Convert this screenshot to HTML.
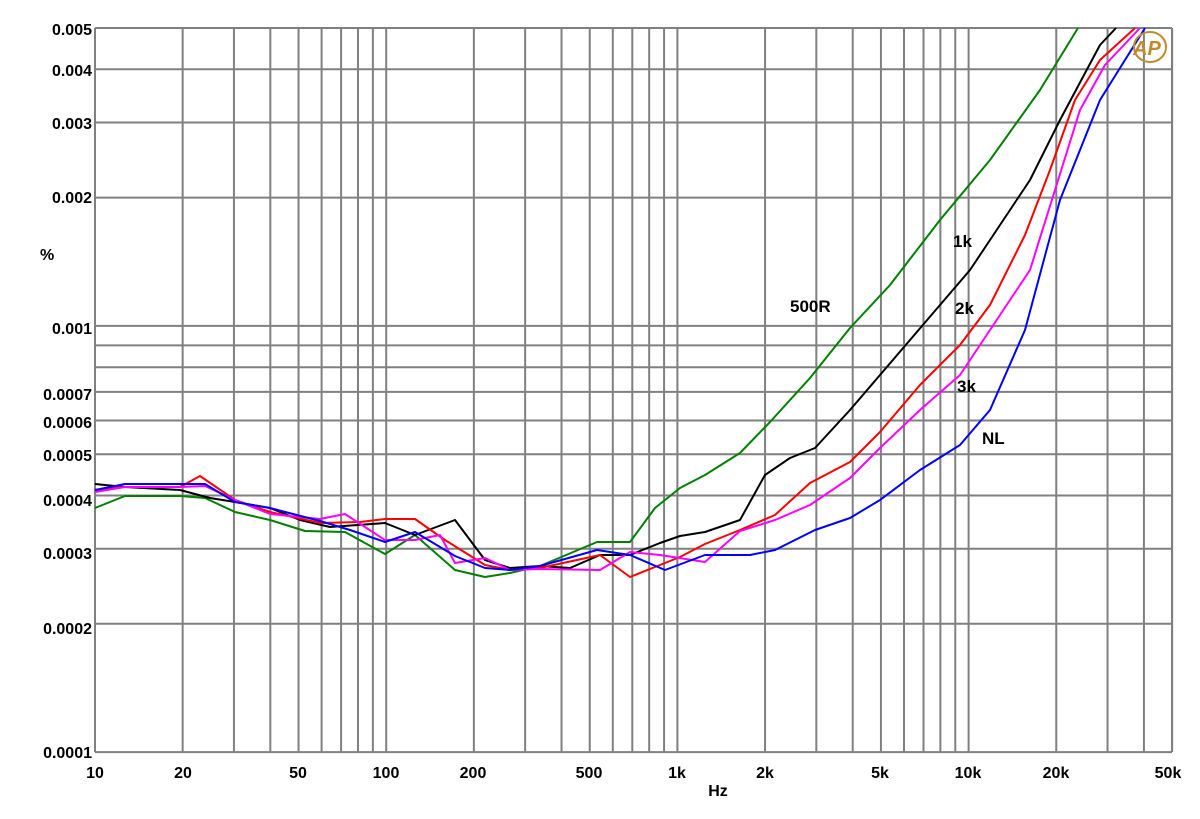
<!DOCTYPE html><html><head><style>body{margin:0;background:#fff}svg text{font-family:"Liberation Sans",Arial,sans-serif;font-size:16px;fill:#000;font-weight:bold}</style></head><body>
<svg width="1200" height="814" xmlns="http://www.w3.org/2000/svg">
<g stroke="#808080" stroke-width="2" id="g"></g>
<script>
var g=document.getElementById('g'),ns='http://www.w3.org/2000/svg';
function X(f){return 95+(Math.log10(f)-1)*291.2}
function Y(v){return 28+(Math.log10(0.005)-Math.log10(v))*426.2}
function ln(a,b,c,d){var l=document.createElementNS(ns,'line');l.setAttribute('x1',a);l.setAttribute('y1',b);l.setAttribute('x2',c);l.setAttribute('y2',d);g.appendChild(l)}
[10,100,1000,10000].forEach(function(d){for(var k=1;k<10;k++){var f=d*k;if(f<=50000)ln(X(f),28,X(f),752)}});ln(1172,28,1172,752);
[0.0001,0.0002,0.0003,0.0004,0.0005,0.0006,0.0007,0.0008,0.0009,0.001,0.002,0.003,0.004,0.005].forEach(function(v){ln(95,Y(v),1172,Y(v))});
</script>
<g fill="none" stroke-width="2" stroke-linejoin="round">
<polyline stroke="#008000" points="95,508 125,496 180,496 205,498 235,512 270,520 305,531 345,532 385,554 415,535 455,570 485,577 510,573 540,566 597,542 630,542 655,508 680,488 705,475 740,453 770,422 810,378 850,328 890,285 940,220 990,160 1040,90 1078,28"/>
<polyline stroke="#000" points="95,484 125,487 180,490 210,498 235,502 270,508 300,520 330,527 385,523 415,535 455,520 485,560 510,568 540,566 570,568 600,555 630,555 660,543 680,536 705,532 740,520 765,475 790,458 815,448 850,410 880,375 910,340 940,305 970,270 990,240 1030,180 1060,120 1100,45 1116,28"/>
<polyline stroke="#ff0000" points="95,490 125,487 180,487 200,476 235,500 270,512 320,523 360,522 385,519 415,519 445,540 485,565 510,570 540,568 600,555 630,577 660,565 680,557 705,544 740,530 775,515 810,483 850,462 880,432 920,385 960,345 990,305 1025,235 1050,170 1075,100 1100,60 1135,28"/>
<polyline stroke="#ff00ff" points="95,492 125,487 180,487 205,486 235,500 270,514 320,519 345,514 385,540 415,540 440,535 455,563 485,558 510,570 540,569 600,570 630,552 660,555 705,562 740,531 775,520 810,505 850,478 880,448 920,410 960,375 990,330 1030,270 1055,190 1080,110 1105,65 1140,28"/>
<polyline stroke="#0000ff" points="95,490 125,484 180,484 205,484 235,502 270,508 320,521 350,530 385,542 415,532 455,556 485,568 510,570 540,566 597,550 630,555 665,570 705,555 750,555 775,550 815,530 850,518 880,500 920,470 960,445 990,410 1025,330 1060,200 1100,100 1145,28"/>
</g>
<g text-anchor="end">
<text x="92" y="35">0.005</text><text x="92" y="76">0.004</text><text x="92" y="129">0.003</text><text x="92" y="203">0.002</text><text x="92" y="334">0.001</text><text x="92" y="400">0.0007</text><text x="92" y="428">0.0006</text><text x="92" y="461">0.0005</text><text x="92" y="506">0.0004</text><text x="92" y="559">0.0003</text><text x="92" y="634">0.0002</text><text x="92" y="758">0.0001</text>
</g>
<text x="40" y="260">%</text>
<g text-anchor="middle">
<text x="95" y="778">10</text><text x="183" y="778">20</text><text x="298" y="778">50</text><text x="386" y="778">100</text><text x="473" y="778">200</text><text x="589" y="778">500</text><text x="677" y="778">1k</text><text x="765" y="778">2k</text><text x="880" y="778">5k</text><text x="968" y="778">10k</text><text x="1056" y="778">20k</text><text x="1168" y="778">50k</text>
<text x="718" y="796">Hz</text>
</g>
<g><text x="953" y="247" style="font-size:17px">1k</text><text x="955" y="314" style="font-size:17px">2k</text><text x="790" y="312" style="font-size:17px">500R</text><text x="957" y="392" style="font-size:17px">3k</text><text x="982" y="444" style="font-size:17px">NL</text></g>
<g fill="none" stroke="#c08a30" stroke-width="2"><ellipse cx="1150" cy="47" rx="16" ry="15"/></g>
<text x="1133" y="55" style="font-size:20px;fill:#c08a30;font-style:italic;font-weight:bold">AP</text>
</svg></body></html>
